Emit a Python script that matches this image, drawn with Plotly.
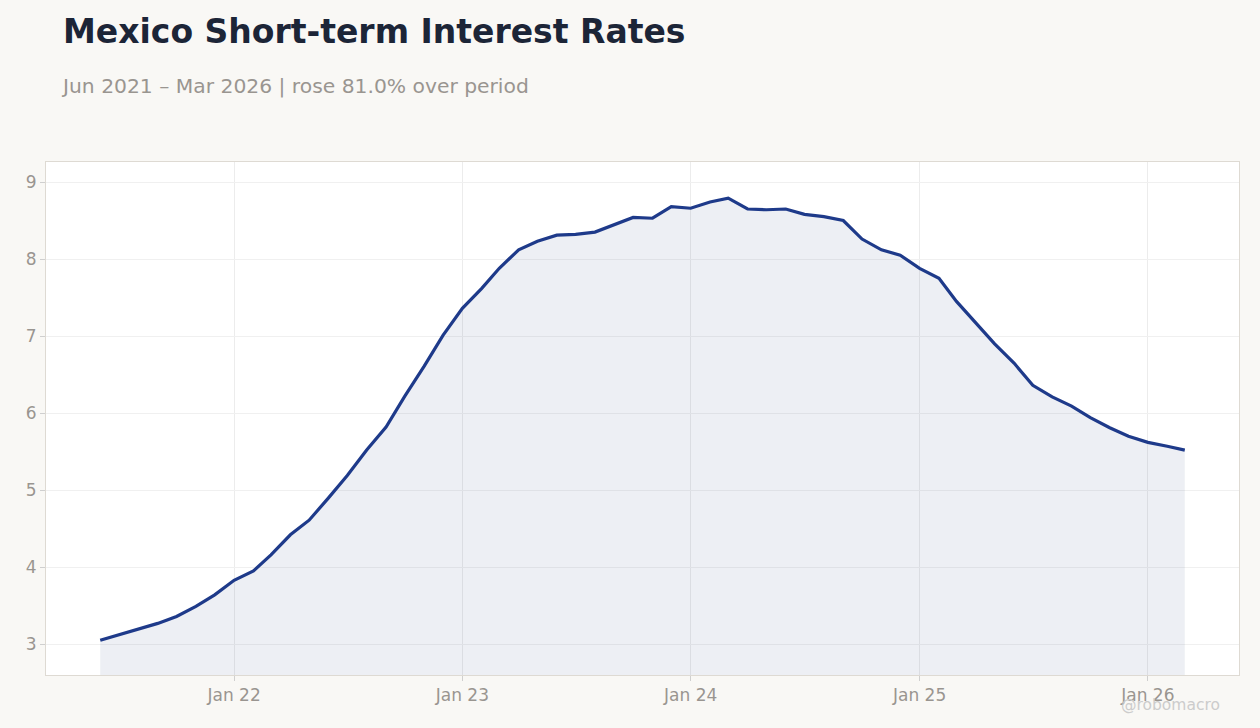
import pandas as pd
import plotly.graph_objects as go

dates = pd.date_range("2021-06-01", "2026-03-01", freq="MS")
rates = [3.05, 3.12, 3.19, 3.27, 3.36, 3.49, 3.64,
         3.83, 3.95, 4.16, 4.42, 4.61, 4.90, 5.19, 5.52, 5.82, 6.22, 6.61, 7.01,
         7.36, 7.62, 7.88, 8.12, 8.23, 8.31, 8.32, 8.35, 8.45, 8.54, 8.53, 8.68,
         8.66, 8.74, 8.79, 8.65, 8.64, 8.65, 8.58, 8.55, 8.50, 8.26, 8.12, 8.05,
         7.88, 7.75, 7.45, 7.17, 6.90, 6.65, 6.36, 6.21, 6.09, 5.94, 5.81, 5.70,
         5.62, 5.57, 5.52]
tick_dates = ["2022-01-01", "2023-01-01", "2024-01-01", "2025-01-01", "2026-01-01"]
tick_labels = ["Jan 22", "Jan 23", "Jan 24", "Jan 25", "Jan 26"]

title = "Mexico Short-term Interest Rates"
subtitle = "Jun 2021 – Mar 2026 | rose 81.0% over period"

span = dates[-1] - dates[0]
xr = [dates[0] - span * 0.05, dates[-1] + span * 0.05]

FONT = "DejaVu Sans"
fig = go.Figure()
fig.add_trace(go.Scatter(
    x=dates, y=rates, mode="lines",
    line=dict(color="#1e3a8a", width=3.2),
    fill="tozeroy", fillcolor="rgba(30,48,110,0.08)",
    hoverinfo="x+y", showlegend=False,
))

fig.update_layout(
    width=1260, height=728,
    paper_bgcolor="#f9f8f5", plot_bgcolor="#ffffff",
    margin=dict(l=46, r=21, t=162, b=53),
    font=dict(family=FONT, color="#999590", size=17),
    xaxis=dict(
        range=xr, tickvals=tick_dates, ticktext=tick_labels,
        showgrid=True, gridcolor="#ececec", gridwidth=1,
        ticks="outside", ticklen=5, tickcolor="#cfcfcf",
        showline=True, linecolor="#dedad3", linewidth=1, mirror=True,
        tickfont=dict(size=17, color="#999590"), zeroline=False,
    ),
    yaxis=dict(
        range=[2.6, 9.26], tickvals=[3, 4, 5, 6, 7, 8, 9],
        showgrid=True, gridcolor="#f0f0f0", gridwidth=1,
        ticks="outside", ticklen=5, tickcolor="#cfcfcf",
        showline=True, linecolor="#dedad3", linewidth=1, mirror=True,
        tickfont=dict(size=17, color="#999590"), zeroline=False,
    ),
    annotations=[
        dict(text="<b>" + title + "</b>", xref="paper", yref="paper", x=0, y=1,
             xanchor="left", yanchor="middle", xshift=15, yshift=131,
             showarrow=False, font=dict(family=FONT, size=33, color="#1c2537")),
        dict(text=subtitle, xref="paper", yref="paper", x=0, y=1,
             xanchor="left", yanchor="middle", xshift=13, yshift=76,
             showarrow=False, font=dict(family=FONT, size=20.3, color="#999590")),
        dict(text="@robomacro", xref="paper", yref="paper", x=1, y=0,
             xanchor="right", yanchor="middle", xshift=-17, yshift=-30,
             showarrow=False, font=dict(family=FONT, size=15.5, color="#cccccc")),
    ],
)

fig.write_html("out.html")
